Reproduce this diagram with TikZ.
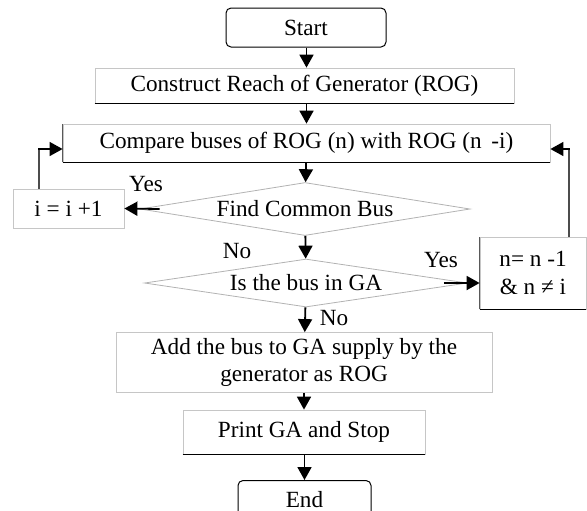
\documentclass[tikz,border=0pt]{standalone}
\usepackage{fontspec}
\setmainfont{Liberation Serif}
\usetikzlibrary{shapes.geometric,arrows.meta}
\begin{document}
\begin{tikzpicture}[x=0.5pt,y=-0.5pt,
  every node/.style={font=\fontsize{11.6}{13.5}\selectfont},
  term/.style={draw=black,line width=0.5pt,rounded corners=2.5pt,minimum width=#1,minimum height=19.5pt,inner sep=0pt},
  pbox/.style={draw=gray!45,line width=0.4pt,inner sep=0pt,align=center},
  dec/.style={diamond,draw=gray!60,line width=0.4pt,inner sep=0pt,shape aspect=6},
  arr/.style={-{Triangle[width=7pt,length=6.5pt]},line width=0.9pt,black},
  loopline/.style={line width=0.6pt,draw=gray!60!black},
  lbl/.style={inner sep=0pt}]
\useasboundingbox (0,0) rectangle (587,510);
\node[term=80pt] (start) at (306,27.5) {Start};
\node[pbox,minimum width=209.5pt,minimum height=17.5pt] (rog) at (304.5,85.5) {Construct Reach of Generator (ROG)};
\node[pbox,minimum width=243.5pt,minimum height=19pt] (cmp) at (306.5,143) {Compare buses of ROG (n) with ROG (n \,-i)};
\node[dec,minimum width=165pt,minimum height=26.5pt] (d1) at (305,209) {Find Common Bus};
\node[pbox,minimum width=55.5pt,minimum height=19.5pt] (ibox) at (68.5,208.5) {i = i +1};
\node[dec,minimum width=161.5pt,minimum height=24pt] (d2) at (306,283) {Is the bus in GA};
\node[pbox,minimum width=53pt,minimum height=36pt,font=\fontsize{11.6}{14}\selectfont] (nbox) at (533,273) {n= n -1\\\& n ≠ i};
\node[pbox,minimum width=188pt,minimum height=30pt] (add) at (304,362.5) {Add the bus to GA supply by the\\generator as ROG};
\node[pbox,minimum width=121pt,minimum height=22pt] (print) at (304,432) {Print GA and Stop};
\node[term=66.5pt] (end) at (304.5,500) {End};
% dark bottom edges
\foreach \n in {rog,cmp,print,nbox}
  \draw[line width=0.6pt] (\n.south west) -- (\n.south east);
\draw[line width=0.5pt,gray!70!black] (nbox.south west) -- (nbox.north west);
\draw[line width=0.5pt,gray!70!black] (cmp.south west) -- (cmp.north west);
% connectors
\draw[arr] (start.south -| cmp.north) -- (rog.north -| cmp.north);
\draw[arr] (rog.south -| cmp.north) -- (cmp.north);
\draw[arr] (cmp) -- (d1);
\draw[arr] ([xshift=10pt]d1.west) -- (ibox.east);
\draw[arr] (d1) -- (d2);
\draw[arr] ([xshift=-12pt]d2.east) -- (nbox.west |- d2.east);
\draw[arr] (d2) -- (add);
\draw[arr] (add.south -| print.north) -- (print.north);
\draw[arr] (print.south -| end.north) -- (end.north);
\coordinate (lt) at (39,149);
\coordinate (rt) at (569,149);
\draw[loopline] (ibox.north -| lt) -- (lt);
\draw[arr,line width=0.7pt] ([xshift=-0.3pt]lt) -- (cmp.west |- lt);
\draw[loopline] (nbox.north -| rt) -- (rt);
\draw[arr,line width=0.7pt] ([xshift=0.3pt]rt) -- (cmp.east |- rt);
% labels
\node[lbl] (y1) at (146,184) {Yes};
\node[lbl] (n1) at (237,251) {No};
\node[lbl] (y2) at (441,260) {Yes};
\node[lbl] (n2) at (334,318) {No};
\end{tikzpicture}
\end{document}
